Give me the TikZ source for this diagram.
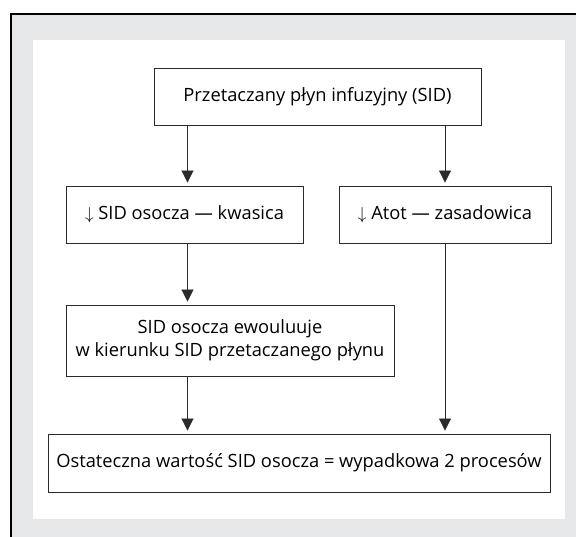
\documentclass[tikz,border=0pt]{standalone}
\usepackage{fontspec}
\setmainfont{Open Sans}
\usepackage{xcolor}
\definecolor{panel}{RGB}{230,231,232}
\definecolor{edge}{RGB}{45,42,43}
\usepackage{tikz}
\usetikzlibrary{arrows.meta,positioning,calc}
\tikzset{
  box/.style={draw=edge,line width=0.9pt,fill=white,inner sep=2pt,%
    align=center,font=\fontsize{18.3}{23}\selectfont},
  flow/.style={-{Triangle[length=12pt,width=12pt]},line width=0.9pt,draw=edge,%
    shorten >=3pt},
}

\begin{document}
\begin{tikzpicture}[x=1pt,y=-1pt]
\useasboundingbox (0,0) rectangle (576,537);
% frame
\fill[panel] (11,14) rectangle (576,537);
\draw[line width=1.2pt] (11,537) -- (11,14) -- (576,14);
\fill[white] (33,40) rectangle (565,519);
% boxes
\node[box,minimum width=327pt,minimum height=57pt] (infuz) at (317.5,96.5)
  {Przetaczany płyn infuzyjny (SID)};
\node[box,minimum width=237pt,minimum height=57pt] (kwas) at (184.5,214.5)
  {$\downarrow$ SID osocza — kwasica};
\node[box,minimum width=212pt,minimum height=57pt] (zasad) at (445,214.5)
  {$\downarrow$ Atot — zasadowica};
\node[box,minimum width=328pt,minimum height=71pt] (ewol) at (230,340.5)
  {SID osocza ewouluuje\\w kierunku SID przetaczanego płynu};
\node[box,minimum width=502pt,minimum height=58pt] (wynik) at (299,463)
  {Ostateczna wartość SID osocza = wypadkowa 2 procesów};
\coordinate (lx) at (187.5,0);
\coordinate (rx) at (445,0);
% arrows
\draw[flow] (infuz.south -| lx) -- (kwas.north -| lx);
\draw[flow] (infuz.south -| rx) -- (zasad.north -| rx);
\draw[flow] (kwas.south -| lx) -- (ewol.north -| lx);
\draw[flow] (ewol.south -| lx) -- (wynik.north -| lx);
\draw[flow] (zasad.south -| rx) -- (wynik.north -| rx);
\end{tikzpicture}
\end{document}
